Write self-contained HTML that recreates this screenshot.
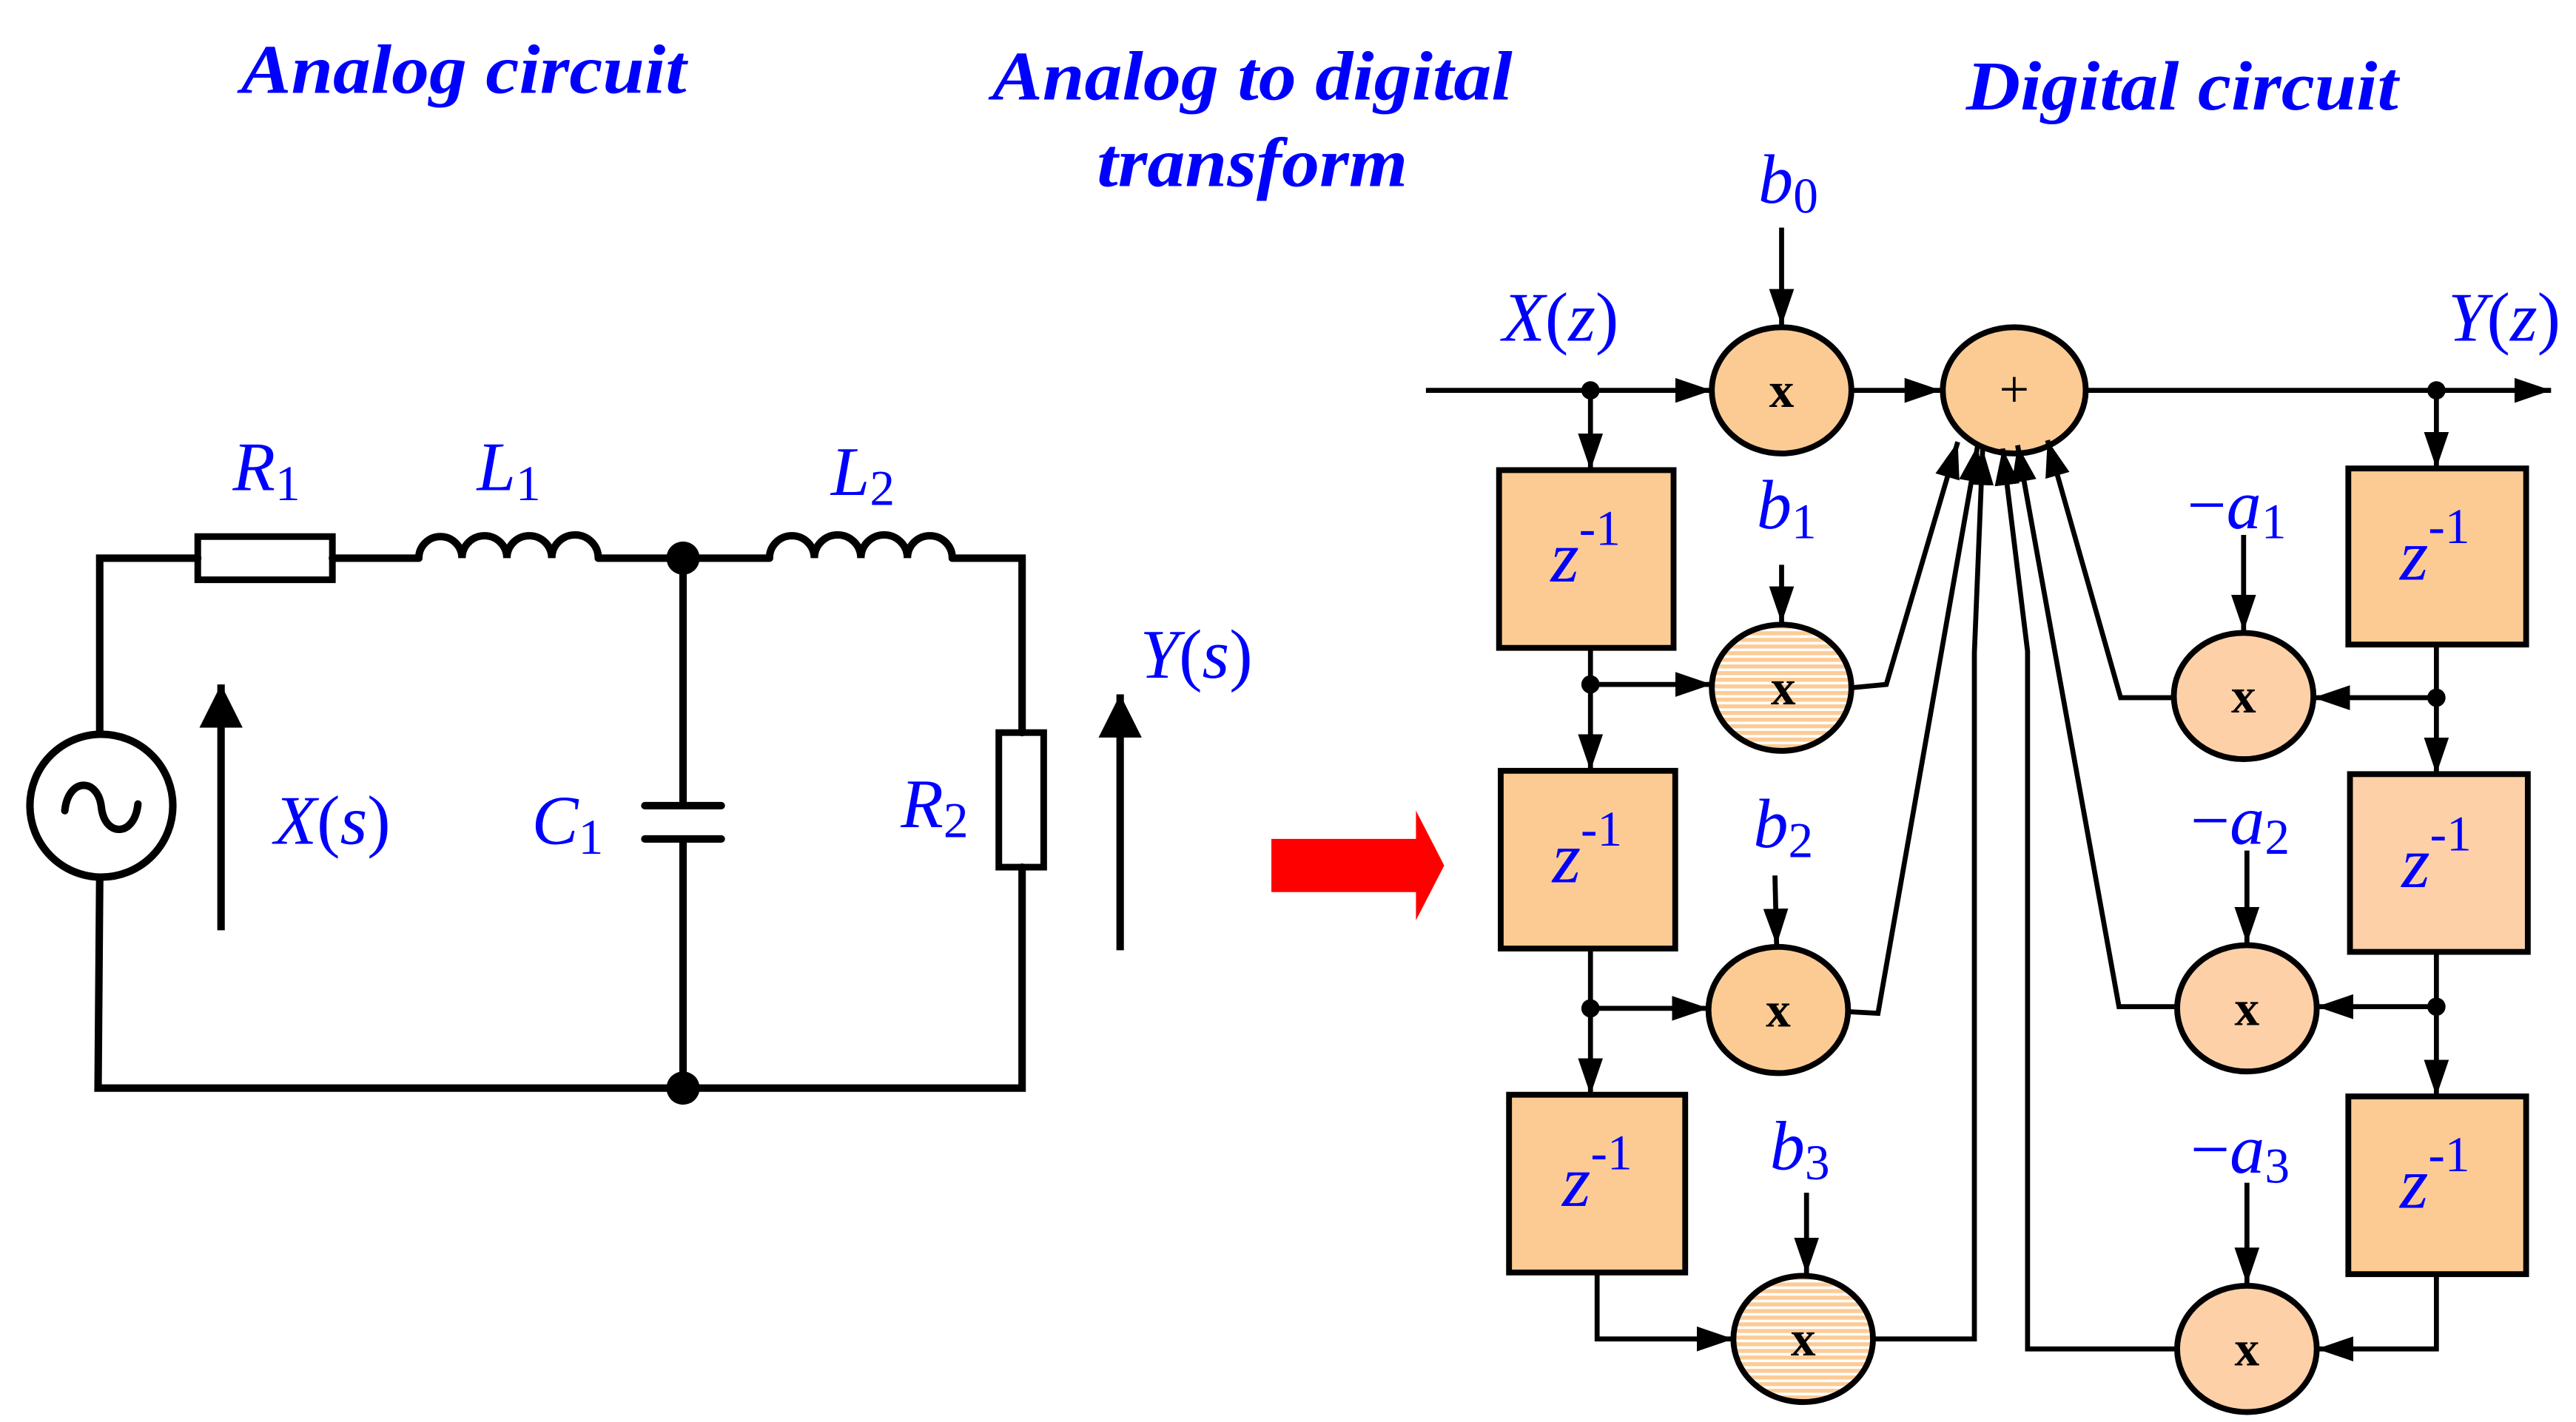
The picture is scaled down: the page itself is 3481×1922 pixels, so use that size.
<!DOCTYPE html>
<html><head><meta charset="utf-8"><style>html,body{margin:0;padding:0;background:#fff}svg{display:block}</style></head><body>
<svg width="3481" height="1922" viewBox="0 0 1550 856" preserveAspectRatio="none" xmlns="http://www.w3.org/2000/svg">
<defs>
<marker id="ahb" viewBox="0 0 10 10" refX="10" refY="5" markerWidth="22" markerHeight="15" preserveAspectRatio="none" markerUnits="userSpaceOnUse" orient="auto"><path d="M0,0 L10,5 L0,10z" fill="#000"/></marker>
<marker id="ahc" viewBox="0 0 10 10" refX="10" refY="5" markerWidth="26" markerHeight="26" preserveAspectRatio="none" markerUnits="userSpaceOnUse" orient="auto"><path d="M0,0 L10,5 L0,10z" fill="#000"/></marker>
<pattern id="hat" width="4" height="4" patternUnits="userSpaceOnUse"><rect width="4" height="4" fill="#fff"/><rect width="4" height="2.4" fill="#fccb94"/></pattern>
</defs>
<g font-family="Liberation Serif, serif" font-style="italic" font-weight="bold" fill="#0000ff" font-size="42">
<text x="145" y="56" textLength="268" lengthAdjust="spacingAndGlyphs">Analog circuit</text>
<text x="597" y="60" textLength="313" lengthAdjust="spacingAndGlyphs">Analog to digital</text>
<text x="660" y="112" textLength="187" lengthAdjust="spacingAndGlyphs">transform</text>
<text x="1183" y="66" textLength="260" lengthAdjust="spacingAndGlyphs">Digital circuit</text>
</g>
<g stroke="#000" stroke-width="4.5" fill="none" stroke-linecap="round">
<polyline points="60,441 60,336 119,336"/>
<rect x="119" y="323" width="81" height="26" stroke-width="4"/>
<polyline points="200,336 252,336"/>
<path d="M252,336 a13,13 0 0 1 26,0 a13,13 0 0 1 27,0 a13,13 0 0 1 27,0 a13,13 0 0 1 28,0"/>
<line x1="360" y1="336" x2="463" y2="336"/>
<path d="M463,336 a13,13 0 0 1 27,0 a13,13 0 0 1 28,0 a13,13 0 0 1 28,0 a13,13 0 0 1 27,0"/>
<polyline points="573,336 615,336 615,441"/>
<rect x="601" y="441" width="27" height="81" stroke-width="4"/>
<polyline points="615,522 615,655 59,655 60,529"/>
<line x1="411" y1="336" x2="411" y2="485"/>
<line x1="388" y1="485" x2="434" y2="485"/>
<line x1="388" y1="505" x2="434" y2="505"/>
<line x1="411" y1="505" x2="411" y2="655"/>
<circle cx="61" cy="485" r="43"/>
<path d="M39,488 c2,-20 20,-20 22,-2 c2,18 20,18 22,-2"/>
</g>
<circle cx="411" cy="336" r="10"/><circle cx="411" cy="655" r="10"/>
<line x1="133" y1="560" x2="133" y2="412" stroke="#000" stroke-width="4.5" marker-end="url(#ahc)"/>
<line x1="674" y1="572" x2="674" y2="418" stroke="#000" stroke-width="4.5" marker-end="url(#ahc)"/>
<path d="M765,505 L852,505 L852,488 L869,521 L852,554 L852,537 L765,537z" fill="#ff0000"/>
<g font-family="Liberation Serif, serif" font-style="italic" fill="#0000ff" font-size="42">
<text x="140" y="295">R<tspan font-style="normal" font-size="30" dy="6">1</tspan></text>
<text x="287" y="295">L<tspan font-style="normal" font-size="30" dy="6">1</tspan></text>
<text x="500" y="298">L<tspan font-style="normal" font-size="30" dy="6">2</tspan></text>
<text x="320" y="508">C<tspan font-style="normal" font-size="30" dy="6">1</tspan></text>
<text x="542" y="498">R<tspan font-style="normal" font-size="30" dy="6">2</tspan></text>
<text x="165" y="508">X<tspan font-style="normal">(</tspan>s<tspan font-style="normal">)</tspan></text>
<text x="686" y="408">Y<tspan font-style="normal">(</tspan>s<tspan font-style="normal">)</tspan></text>
<text x="904" y="205">X<tspan font-style="normal">(</tspan>z<tspan font-style="normal">)</tspan></text>
<text x="1473" y="205">Y<tspan font-style="normal">(</tspan>z<tspan font-style="normal">)</tspan></text>
<text x="1058" y="122">b<tspan font-style="normal" font-size="30" dy="6">0</tspan></text>
<text x="1057" y="318">b<tspan font-style="normal" font-size="30" dy="6">1</tspan></text>
<text x="1055" y="510">b<tspan font-style="normal" font-size="30" dy="6">2</tspan></text>
<text x="1065" y="704">b<tspan font-style="normal" font-size="30" dy="6">3</tspan></text>
<text x="1316" y="318"><tspan font-style="normal">−</tspan>a<tspan font-style="normal" font-size="30" dy="6">1</tspan></text>
<text x="1318" y="508"><tspan font-style="normal">−</tspan>a<tspan font-style="normal" font-size="30" dy="6">2</tspan></text>
<text x="1318" y="706"><tspan font-style="normal">−</tspan>a<tspan font-style="normal" font-size="30" dy="6">3</tspan></text>
</g>
<g stroke="#000" stroke-width="3.5" fill="#fccb94">
<rect x="902" y="283" width="105" height="107"/>
<rect x="903" y="464" width="105" height="107"/>
<rect x="908" y="659" width="106" height="107"/>
<rect x="1413" y="282" width="107" height="106"/>
<rect x="1414" y="466" width="107" height="107" fill="#fdd0a8"/>
<rect x="1413" y="660" width="107" height="107"/>
<ellipse cx="1072" cy="235" rx="42" ry="38"/>
<ellipse cx="1212" cy="235" rx="43" ry="38"/>
<ellipse cx="1072" cy="414" rx="42" ry="38" fill="url(#hat)"/>
<ellipse cx="1070" cy="608" rx="42" ry="38"/>
<ellipse cx="1085" cy="806" rx="42" ry="38" fill="url(#hat)"/>
<ellipse cx="1350" cy="419" rx="42" ry="38" fill="#fdd0a8"/>
<ellipse cx="1352" cy="607" rx="42" ry="38" fill="#fdd0a8"/>
<ellipse cx="1352" cy="812" rx="42" ry="38" fill="#fdd0a8"/>
</g>
<g font-family="Liberation Serif, serif" fill="#0000ff">
<text x="933" y="350" font-size="44" font-style="italic">z<tspan font-style="normal" font-size="30" dy="-22">-1</tspan></text>
<text x="934" y="531" font-size="44" font-style="italic">z<tspan font-style="normal" font-size="30" dy="-22">-1</tspan></text>
<text x="940" y="726" font-size="44" font-style="italic">z<tspan font-style="normal" font-size="30" dy="-22">-1</tspan></text>
<text x="1444" y="349" font-size="44" font-style="italic">z<tspan font-style="normal" font-size="30" dy="-22">-1</tspan></text>
<text x="1445" y="534" font-size="44" font-style="italic">z<tspan font-style="normal" font-size="30" dy="-22">-1</tspan></text>
<text x="1444" y="727" font-size="44" font-style="italic">z<tspan font-style="normal" font-size="30" dy="-22">-1</tspan></text>
</g>
<g font-family="Liberation Serif, serif" font-weight="bold" font-size="30" fill="#000" text-anchor="middle">
<text x="1072" y="245">x</text><text x="1073" y="424">x</text><text x="1070" y="618">x</text><text x="1085" y="816">x</text>
<text x="1350" y="429">x</text><text x="1352" y="617">x</text><text x="1352" y="822">x</text>
<text x="1212" y="245" font-weight="normal" font-size="32">+</text>
</g>
<g stroke="#000" stroke-width="3" fill="none" marker-end="url(#ahb)">
<line x1="858" y1="235" x2="1030" y2="235"/>
<line x1="1114" y1="235" x2="1168" y2="235"/>
<line x1="1256" y1="235" x2="1535" y2="235"/>
<line x1="1072" y1="137" x2="1072" y2="196"/>
<line x1="1072" y1="340" x2="1072" y2="375"/>
<line x1="1068" y1="527" x2="1069" y2="569"/>
<line x1="1087" y1="718" x2="1087" y2="767"/>
<line x1="1350" y1="322" x2="1350" y2="380"/>
<line x1="1352" y1="512" x2="1352" y2="568"/>
<line x1="1352" y1="712" x2="1352" y2="773"/>
<line x1="957" y1="235" x2="957" y2="283"/>
<line x1="957" y1="390" x2="957" y2="464"/>
<line x1="957" y1="571" x2="957" y2="659"/>
<line x1="957" y1="412" x2="1030" y2="412"/>
<line x1="957" y1="607" x2="1028" y2="607"/>
<polyline points="961,766 961,806 1043,806"/>
<line x1="1466" y1="235" x2="1466" y2="282"/>
<line x1="1466" y1="388" x2="1466" y2="466"/>
<line x1="1466" y1="573" x2="1466" y2="660"/>
<line x1="1466" y1="420" x2="1392" y2="420"/>
<line x1="1466" y1="606" x2="1394" y2="606"/>
<polyline points="1466,767 1466,812 1394,812"/>
<polyline points="1114,414 1135,412 1178,266"/>
<polyline points="1112,609 1130,610 1190,268"/>
<polyline points="1128,806 1188,806 1188,393 1193,270"/>
<polyline points="1308,420 1276,420 1232,265"/>
<polyline points="1310,606 1275,606 1214,268"/>
<polyline points="1310,812 1220,812 1220,392 1205,270"/>
</g>
<g fill="#000">
<circle cx="957" cy="235" r="5.5"/><circle cx="957" cy="412" r="5.5"/><circle cx="957" cy="607" r="5.5"/>
<circle cx="1466" cy="235" r="5.5"/><circle cx="1466" cy="420" r="5.5"/><circle cx="1466" cy="606" r="5.5"/>
</g>
</svg>
</body></html>
